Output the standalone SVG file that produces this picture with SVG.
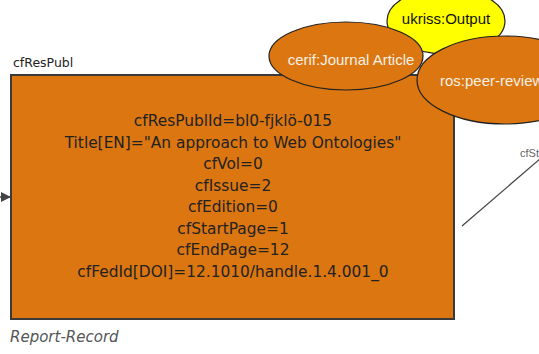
<svg xmlns="http://www.w3.org/2000/svg" width="539" height="354" viewBox="0 0 539 354">
<defs>
<style>
.box{fill:#dc7610;stroke:#3a3a3a;stroke-width:2}
.ell{stroke:#222;stroke-width:1.2}
.attr{font-family:"DejaVu Sans",sans-serif;font-size:15.4px;fill:#222;text-anchor:middle}
.elab{font-family:"Liberation Sans",Arial,sans-serif;font-size:15px;text-anchor:middle}
</style>
<marker id="ah" markerWidth="10" markerHeight="10" refX="9" refY="5" orient="auto" markerUnits="userSpaceOnUse">
<path d="M0,0 L10,5 L0,10 z" fill="#444"/>
</marker>
</defs>
<rect width="539" height="354" fill="#fff"/>
<g id="connectors">
<line x1="-10" y1="197" x2="10" y2="197" stroke="#444" stroke-width="1.5" marker-end="url(#ah)"/>
<line x1="462" y1="226" x2="541" y2="158" stroke="#444" stroke-width="1.2"/>
<text x="520" y="157" font-family="Liberation Sans,Arial,sans-serif" font-size="11" fill="#666">cfSt</text>
</g>
<g id="cfResPubl">
<text x="13" y="67" font-family="DejaVu Sans,sans-serif" font-size="12.5" fill="#222">cfResPubl</text>
<rect class="box" x="11" y="75" width="443" height="244"/>
<text class="attr" x="233" y="126">cfResPublId=bl0-fjklö-015</text>
<text class="attr" x="233" y="148">Title[EN]="An approach to Web Ontologies"</text>
<text class="attr" x="233" y="169">cfVol=0</text>
<text class="attr" x="233" y="191">cfIssue=2</text>
<text class="attr" x="233" y="212">cfEdition=0</text>
<text class="attr" x="233" y="234">cfStartPage=1</text>
<text class="attr" x="233" y="255">cfEndPage=12</text>
<text class="attr" x="233" y="277">cfFedId[DOI]=12.1010/handle.1.4.001_0</text>
<text x="10" y="342" font-family="DejaVu Sans,sans-serif" font-style="italic" font-size="15" fill="#555">Report-Record</text>
</g>
<g id="ukriss-output">
<ellipse class="ell" cx="446" cy="21" rx="59" ry="33" fill="#ffff00"/>
<text class="elab" x="446" y="24" fill="#111">ukriss:Output</text>
</g>
<g id="cerif-journal-article">
<ellipse class="ell" cx="346" cy="56" rx="77" ry="34" fill="#dc7610"/>
<text class="elab" x="351" y="65" fill="#f5f0e6">cerif:Journal Article</text>
</g>
<g id="ros-peer-reviewed">
<ellipse class="ell" cx="505" cy="80" rx="88" ry="44" fill="#dc7610"/>
<text class="elab" x="500" y="86" fill="#f5f0e6">ros:peer-reviewed</text>
</g>
</svg>
